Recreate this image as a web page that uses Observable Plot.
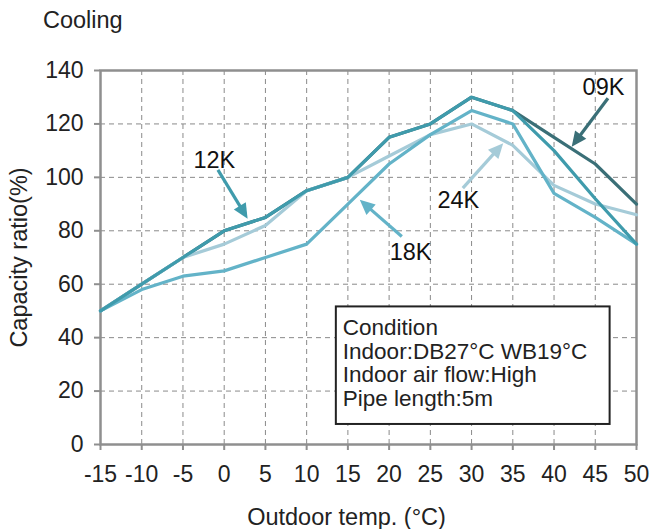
<!DOCTYPE html>
<html>
<head>
<meta charset="utf-8">
<script src="https://cdn.jsdelivr.net/npm/d3@7"></script>
<script src="https://cdn.jsdelivr.net/npm/@observablehq/plot@0.6"></script>
<style>
  body { margin: 0; background: #fff; font-family: "Liberation Sans", Arial, sans-serif; }
  #title { height: 40px; line-height: 40px; padding-left: 43px; font-size: 23.5px; color: #222; }
</style>
</head>
<body>
<div id="title">Cooling</div>
<div id="chart"></div>
<script>
const temps = [-15, -10, -5, 0, 5, 10, 15, 20, 25, 30, 35, 40, 45, 50];
const cap24K = [50, 60, 70, 75, 82, 95, 100, 108, 116, 120, 112, 97, 90, 86];
const cap18K = [50, 58, 63, 65, 70, 75, 90, 105, 116, 125, 120, 94, 85, 75];
const cap12K = [50, 60, 70, 80, 85, 95, 100, 115, 120, 130, 125, 110, 92, 75];
const cap09K = [50, 60, 70, 80, 85, 95, 100, 115, 120, 130, 125, 115, 105, 90];
const seriesNames = ["09K", "12K", "18K", "24K"];
const seriesColors = ["#3a6f77", "#3f9bac", "#63b3c8", "#a5cbd8"];
const xTicks = [-15, -10, -5, 0, 5, 10, 15, 20, 25, 30, 35, 40, 45, 50];
const yTicks = [0, 20, 40, 60, 80, 100, 120, 140];

// annotation labels and arrows (data coordinates)
const labelX = [46.0, -1.2, 22.6, 28.4];
const labelY = [133.7, 106.3, 71.8, 91.4];
const arrowFromX = [46.6, -0.7, 21.6, 29.0];
const arrowFromY = [129.4, 102.6, 77.7, 95.8];
const arrowToX = [42.2, 2.9, 16.5, 33.9];
const arrowToY = [111.3, 84.3, 91.4, 112.6];

const conditionLines = ["Condition", "Indoor:DB27°C WB19°C", "Indoor air flow:High", "Pipe length:5m"];

const capBySeries = {"09K": cap09K, "12K": cap12K, "18K": cap18K, "24K": cap24K};
const drawOrder = ["09K", "24K", "18K", "12K"];
const rows = [];
for (const s of drawOrder) {
  temps.forEach((t, i) => rows.push({series: s, t, v: capBySeries[s][i]}));
}
const colorOf = s => seriesColors[seriesNames.indexOf(s)];

const annots = seriesNames.map((s, i) => ({
  s, lx: labelX[i], ly: labelY[i], x1: arrowFromX[i], y1: arrowFromY[i], x2: arrowToX[i], y2: arrowToY[i]
}));

const arrowMark = (index, scales) => {
  const g = d3.create("svg:g");
  for (const a of annots) {
    const X1 = scales.x(a.x1), Y1 = scales.y(a.y1), X2 = scales.x(a.x2), Y2 = scales.y(a.y2);
    const ang = Math.atan2(Y2 - Y1, X2 - X1);
    const hl = 15, hw = 7;
    const bx = X2 - hl * Math.cos(ang), by = Y2 - hl * Math.sin(ang);
    const px = -Math.sin(ang) * hw, py = Math.cos(ang) * hw;
    g.append("line").attr("x1", X1).attr("y1", Y1).attr("x2", bx + Math.cos(ang) * 2).attr("y2", by + Math.sin(ang) * 2)
      .attr("stroke", colorOf(a.s)).attr("stroke-width", 3.2);
    g.append("path").attr("d", `M${X2},${Y2}L${bx + px},${by + py}L${bx - px},${by - py}Z`).attr("fill", colorOf(a.s));
  }
  return g.node();
};

const boxMark = (index, scales) => {
  const g = d3.create("svg:g");
  const x0 = scales.x(13.6), x1 = scales.x(46.8), y0 = scales.y(51.5), y1 = scales.y(7.5);
  g.append("rect").attr("x", x0).attr("y", y0).attr("width", x1 - x0).attr("height", y1 - y0)
    .attr("fill", "white").attr("stroke", "#222").attr("stroke-width", 2);
  conditionLines.forEach((t, i) => {
    g.append("text").attr("x", x0 + 7).attr("y", y0 + 29 + i * 23.4)
      .attr("text-anchor", "start")
      .attr("font-size", 22.5).attr("fill", "#222").attr("font-family", "Liberation Sans, Arial, sans-serif").text(t);
  });
  return g.node();
};

const plot = Plot.plot({
  width: 652,
  height: 489,
  marginTop: 30,
  marginLeft: 100,
  marginRight: 16,
  marginBottom: 85,
  style: {fontFamily: "Liberation Sans, Arial, sans-serif", fontSize: "23px", color: "#222", background: "white"},
  x: {domain: [-15, 50]},
  y: {domain: [0, 140]},
  marks: [
    Plot.gridX(xTicks, {stroke: "#8a8a8a", strokeOpacity: 1, strokeDasharray: "5,4", strokeWidth: 1}),
    Plot.gridY(yTicks, {stroke: "#8a8a8a", strokeOpacity: 1, strokeDasharray: "5,4", strokeWidth: 1}),
    Plot.frame({stroke: "#8f8f8f", strokeWidth: 2.5}),
    Plot.axisX({ticks: xTicks, tickSize: 6, tickPadding: 15, stroke: "#8f8f8f", strokeWidth: 2, label: null, fontSize: 23, tickFormat: d => String(d).replace("−", "-")}),
    Plot.axisY({ticks: yTicks, tickSize: 6, tickPadding: 11, stroke: "#8f8f8f", strokeWidth: 2, label: null, fontSize: 23}),
    Plot.axisY({ticks: [], label: "Capacity ratio(%)", labelAnchor: "center", labelArrow: "none", labelOffset: 90, fontSize: 23.5}),
    Plot.line(rows, {x: "t", y: "v", z: "series", stroke: d => colorOf(d.series), strokeWidth: 3.2, strokeLinejoin: "miter"}),
    arrowMark,
    Plot.text(annots, {x: "lx", y: "ly", text: "s", fontSize: 23.5, fill: "#111"}),
    boxMark,
    Plot.text(["Outdoor temp. (°C)"], {frameAnchor: "bottom", dx: -22, dy: 80, fontSize: 23.5, fill: "#222"})
  ]
});
document.getElementById("chart").appendChild(plot);
</script>
</body>
</html>
